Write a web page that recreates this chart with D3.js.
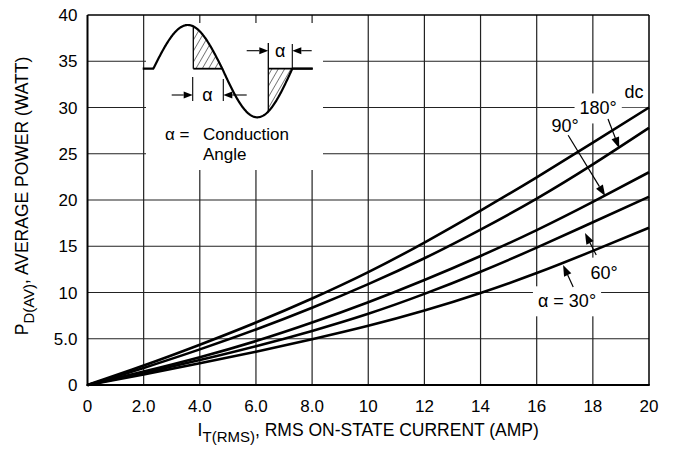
<!DOCTYPE html>
<html><head><meta charset="utf-8">
<script src="https://cdn.jsdelivr.net/npm/d3@7"></script>
<style>
body{margin:0;background:#fff}
svg{display:block}
text{font-family:"Liberation Sans",Arial,Helvetica,sans-serif;fill:#000}
</style>
</head><body>
<svg id="c" width="673" height="449"></svg>
<script>
// ---- data ----
const current = [0,2,4,6,8,10,12,14,16,18,20];
const pDC  = [0,2.1,4.35,6.75,9.35,12.2,15.4,18.85,22.45,26.2,30.0];
const p180 = [0,1.85,3.85,6.0,8.35,10.9,13.7,16.8,20.15,23.85,27.8];
const p90  = [0,1.45,3.0,4.75,6.75,8.95,11.35,13.95,16.75,19.8,23.0];
const p60  = [0,1.3,2.7,4.2,5.85,7.7,9.85,12.25,14.85,17.6,20.35];
const p30  = [0,1.15,2.35,3.6,4.95,6.4,8.05,9.95,12.1,14.5,17.0];
const xTicks = [0,2,4,6,8,10,12,14,16,18,20];
const xTickLabels = ["0","2.0","4.0","6.0","8.0","10","12","14","16","18","20"];
const yTicks = [0,5,10,15,20,25,30,35,40];
const yTickLabels = ["0","5.0","10","15","20","25","30","35","40"];
const curveLabels = ["dc","180°","90°","60°","α = 30°"];
const labelAt   = [[19.47,31.7],[18.19,29.95],[17.01,28.1],[18.4,12.2],[17.08,9.1]];
const arrowFrom = [null,[18.54,28.76],[17.12,27.0],[18.12,14.05],[17.3,10.6]];
const arrowTo   = [null,[18.94,25.6],[18.44,20.43],[17.72,16.43],[16.94,12.97]];

const svg = d3.select("#c");
const L=87.5, R=649, T=15, B=385;
const x = d3.scaleLinear().domain([0,20]).range([L,R]);
const y = d3.scaleLinear().domain([0,40]).range([B,T]);

// grid
const g = svg.append("g");
g.selectAll(".vg").data(xTicks.slice(1,-1)).join("line")
  .attr("x1",d=>x(d)).attr("x2",d=>x(d)).attr("y1",T).attr("y2",B)
  .attr("stroke","#222").attr("stroke-width",1.2);
g.selectAll(".hg").data(yTicks.slice(1,-1)).join("line")
  .attr("x1",L).attr("x2",R).attr("y1",d=>y(d)).attr("y2",d=>y(d))
  .attr("stroke","#222").attr("stroke-width",1.2);

// inset white area (covers grid)
svg.append("rect").attr("x",146).attr("y",23).attr("width",177).attr("height",147).attr("fill","#fff");

// label boxes
const fs = 18;
const labG = svg.append("g");
curveLabels.forEach((t,i)=>{
  labG.append("text").attr("x",x(labelAt[i][0])).attr("y",y(labelAt[i][1]))
    .attr("dy","0.36em").attr("text-anchor","middle").attr("font-size",fs).text(t)
    .attr("class","cl");
});
labG.selectAll("text.cl").each(function(){
  const b=this.getBBox();
  labG.insert("rect","text").attr("x",b.x-5).attr("y",b.y-5).attr("width",b.width+10).attr("height",b.height+10).attr("fill","#fff");
});

// frame
svg.append("line").attr("x1",L).attr("x2",R).attr("y1",T).attr("y2",T).attr("stroke","#000").attr("stroke-width",1.5);
svg.append("line").attr("x1",R).attr("x2",R).attr("y1",T).attr("y2",B).attr("stroke","#000").attr("stroke-width",1.5);
svg.append("line").attr("x1",L).attr("x2",L).attr("y1",T).attr("y2",B+1).attr("stroke","#000").attr("stroke-width",2);
svg.append("line").attr("x1",L-1).attr("x2",R+0.75).attr("y1",B).attr("y2",B).attr("stroke","#000").attr("stroke-width",2);

// curves
const series=[pDC,p180,p90,p60,p30];
const line=d3.line().x((d,i)=>x(current[i])).y(d=>y(d)).curve(d3.curveNatural);
svg.selectAll(".curve").data(series).join("path")
  .attr("d",line).attr("fill","none").attr("stroke","#000").attr("stroke-width",2.6);

// arrows
function arrow(p, q, parent, len=10, hw=3.8, sw=1.2){
  const dx=q[0]-p[0], dy=q[1]-p[1], d=Math.hypot(dx,dy), ux=dx/d, uy=dy/d;
  const bx=q[0]-ux*len, by=q[1]-uy*len;
  parent.append("line").attr("x1",p[0]).attr("y1",p[1]).attr("x2",bx).attr("y2",by).attr("stroke","#000").attr("stroke-width",sw);
  parent.append("path").attr("d",`M${q[0]},${q[1]}L${bx-uy*hw},${by+ux*hw}L${bx+uy*hw},${by-ux*hw}Z`).attr("fill","#000");
}
const aG=svg.append("g");
for(let i=1;i<curveLabels.length;i++){
  arrow([x(arrowFrom[i][0]),y(arrowFrom[i][1])],[x(arrowTo[i][0]),y(arrowTo[i][1])],aG,11,4);
}

// ticks labels
svg.selectAll(".xl").data(xTicks).join("text")
  .attr("x",d=>x(d)).attr("y",411.5).attr("text-anchor","middle").attr("font-size",17)
  .text((d,i)=>xTickLabels[i]);
svg.selectAll(".yl").data(yTicks).join("text")
  .attr("x",77.5).attr("y",d=>y(d)).attr("dy","0.36em").attr("text-anchor","end").attr("font-size",17)
  .text((d,i)=>yTickLabels[i]);

// axis titles
const xt=svg.append("text").attr("x",(L+R)/2).attr("y",435.5).attr("text-anchor","middle").attr("font-size",17.5);
xt.append("tspan").text("I");
xt.append("tspan").attr("dy",6).attr("font-size",15).text("T(RMS)");
xt.append("tspan").attr("dy",-6).text(", RMS ON-STATE CURRENT (AMP)");
const yt=svg.append("text").attr("transform","translate(27.5,196) rotate(-90)").attr("text-anchor","middle").attr("font-size",17.5);
yt.append("tspan").text("P");
yt.append("tspan").attr("dy",6).attr("font-size",15).text("D(AV)");
yt.append("tspan").attr("dy",-6).text(", AVERAGE POWER (WATT)");

// ---- inset diagram ----
const ins=svg.append("g");
const base=68.7;
const posStart=153.3, posEnd=222.3, posAmp=43.7;
const negStart=222.3, negEnd=292.3, negAmp=48.6;
function wave(px){
  if(px<posStart) return base;
  if(px<=posEnd) return base-posAmp*Math.sin(Math.PI*(px-posStart)/(posEnd-posStart));
  if(px<=negEnd) return base+negAmp*Math.sin(Math.PI*(px-negStart)/(negEnd-negStart));
  return base;
}
const defs=svg.append("defs");
const pat=defs.append("pattern").attr("id","hatch").attr("patternUnits","userSpaceOnUse")
  .attr("width",5.5).attr("height",5.5).attr("patternTransform","rotate(30)");
pat.append("line").attr("x1",0).attr("y1",0).attr("x2",0).attr("y2",5.5).attr("stroke","#000").attr("stroke-width",1);
const h1x=193.3, h2x=268.3;
let pts1=[[h1x,base]]; for(let px=h1x;px<=posEnd;px+=0.5) pts1.push([px,wave(px)]); pts1.push([posEnd,base]);
let pts2=[[h2x,base]]; for(let px=h2x;px<=negEnd;px+=0.5) pts2.push([px,wave(px)]); pts2.push([negEnd,base]);
ins.append("path").attr("d","M"+pts1.join("L")+"Z").attr("fill","url(#hatch)");
ins.append("path").attr("d","M"+pts2.join("L")+"Z").attr("fill","url(#hatch)");
let wpts=[]; for(let px=142.7;px<=312.7;px+=0.5) wpts.push([px,wave(px)]);
ins.append("path").attr("d","M"+wpts.join("L")).attr("fill","none").attr("stroke","#000").attr("stroke-width",2.2);
ins.append("line").attr("x1",h1x).attr("x2",posEnd).attr("y1",base).attr("y2",base).attr("stroke","#000").attr("stroke-width",1.8);
ins.append("line").attr("x1",h1x).attr("x2",h1x).attr("y1",wave(h1x)).attr("y2",base).attr("stroke","#000").attr("stroke-width",1.3);
ins.append("line").attr("x1",h2x).attr("x2",312.7).attr("y1",base).attr("y2",base).attr("stroke","#000").attr("stroke-width",1.8);
ins.append("line").attr("x1",h2x).attr("x2",h2x).attr("y1",43).attr("y2",wave(h2x)).attr("stroke","#000").attr("stroke-width",1.3);
ins.append("line").attr("x1",292.3).attr("x2",292.3).attr("y1",44).attr("y2",base).attr("stroke","#000").attr("stroke-width",1.1);
ins.append("line").attr("x1",192.7).attr("x2",192.7).attr("y1",77).attr("y2",101).attr("stroke","#000").attr("stroke-width",1.1);
ins.append("line").attr("x1",223.3).attr("x2",223.3).attr("y1",79).attr("y2",101).attr("stroke","#000").attr("stroke-width",1.1);
arrow([171.7,95],[192.7,95],ins,9,3.5,1.1);
arrow([246.7,95],[223.3,95],ins,9,3.5,1.1);
ins.append("text").attr("x",207.5).attr("y",95).attr("dy","0.36em").attr("text-anchor","middle").attr("font-size",18).text("α");
arrow([246.7,50.7],[268.3,50.7],ins,9,3.5,1.1);
arrow([311.7,50.7],[292.3,50.7],ins,9,3.5,1.1);
ins.append("text").attr("x",280.3).attr("y",50.7).attr("dy","0.36em").attr("text-anchor","middle").attr("font-size",18).text("α");
ins.append("text").attr("x",165).attr("y",139.5).attr("font-size",17).text("α =");
ins.append("text").attr("x",203).attr("y",139.5).attr("font-size",17).text("Conduction");
ins.append("text").attr("x",203).attr("y",160).attr("font-size",17).text("Angle");
</script>
</body></html>
